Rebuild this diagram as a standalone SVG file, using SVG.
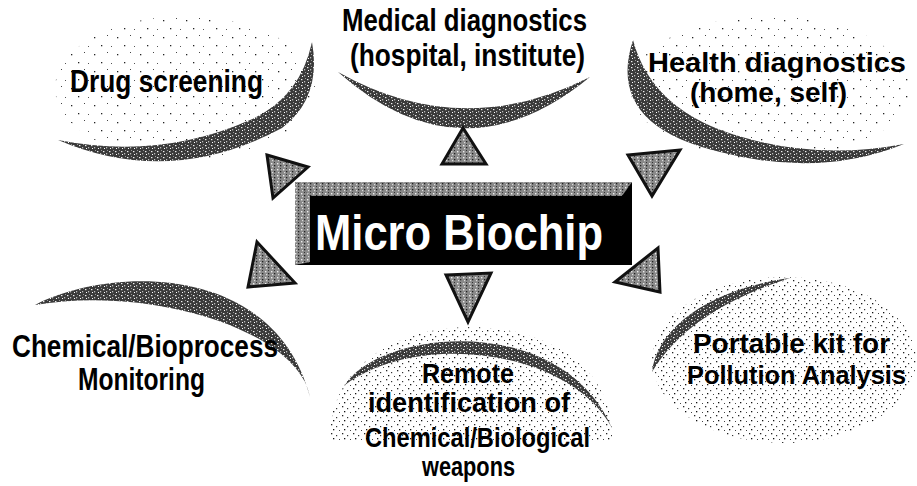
<svg xmlns="http://www.w3.org/2000/svg" width="917" height="486" viewBox="0 0 917 486">
<defs>
<pattern id="lt" width="23" height="17" patternUnits="userSpaceOnUse">
<rect x="2" y="3" width="1.3" height="1.3" fill="#222"/>
<rect x="15" y="1" width="1" height="1" fill="#444"/>
<rect x="9" y="11" width="1.3" height="1.3" fill="#222"/>
<rect x="19" y="12" width="1" height="1" fill="#555"/>
</pattern>
<pattern id="md" width="11" height="9" patternUnits="userSpaceOnUse">
<rect x="1" y="1" width="1.3" height="1.3" fill="#222"/>
<rect x="6" y="3" width="1.2" height="1.2" fill="#333"/>
<rect x="3" y="6" width="1.3" height="1.3" fill="#111"/>
<rect x="9" y="7" width="1" height="1" fill="#444"/>
</pattern>
<pattern id="dk" width="6" height="6" patternUnits="userSpaceOnUse">
<rect width="6" height="6" fill="#3a3a3a"/>
<rect x="1" y="1" width="1.4" height="1.2" fill="#eee"/>
<rect x="4" y="3" width="1.2" height="1.4" fill="#bbb"/>
<rect x="2" y="4" width="1" height="1" fill="#fff"/>
<rect x="5" y="0" width="1" height="1" fill="#999"/>
</pattern>
<pattern id="tp" width="6" height="6" patternUnits="userSpaceOnUse">
<rect width="6" height="6" fill="#8a8a8a"/>
<rect x="1" y="1" width="1.4" height="1.4" fill="#eee"/>
<rect x="4" y="3" width="1.3" height="1.3" fill="#222"/>
<rect x="2" y="4" width="1.2" height="1.2" fill="#ddd"/>
<rect x="4" y="0" width="1" height="1" fill="#333"/>
</pattern>
<style>
.lbl{font-family:"Liberation Sans",Arial,sans-serif;font-weight:bold;font-size:31px;fill:#000}
.sm{font-size:28px}
.xs{font-size:27px}
.xxs{font-size:26px}
.tri{fill:url(#tp);stroke:#111;stroke-width:3;stroke-linejoin:miter}
.cres{fill:url(#dk)}
.soft{fill:url(#lt)}
.mid{fill:url(#md)}
</style>
</defs>
<rect width="917" height="486" fill="#fff"/>

<g id="drug-screening">
<ellipse class="soft" cx="185" cy="88" rx="130" ry="72"/>
<path class="cres" d="M58,140 Q170,188 282,128 Q322,98 312,42 Q300,98 250,120 Q160,160 58,140 Z"/>
<text class="lbl" x="70" y="92" textLength="193" lengthAdjust="spacingAndGlyphs">Drug screening</text>
</g>

<g id="medical-diagnostics">
<path class="cres" d="M338,72 Q462,182 590,77 Q462,142 338,72 Z"/>
<text class="lbl" x="342" y="31" textLength="245" lengthAdjust="spacingAndGlyphs">Medical diagnostics</text>
<text class="lbl" x="350" y="66" textLength="235" lengthAdjust="spacingAndGlyphs">(hospital, institute)</text>
</g>

<g id="health-diagnostics">
<ellipse class="soft" cx="770" cy="88" rx="140" ry="72"/>
<path class="cres" d="M633,40 Q605,125 720,152 Q820,178 904,144 Q820,160 742,137 Q652,112 633,40 Z"/>
<text class="lbl sm" x="648" y="72" textLength="258" lengthAdjust="spacingAndGlyphs">Health diagnostics</text>
<text class="lbl sm" x="690" y="102" textLength="157" lengthAdjust="spacingAndGlyphs">(home, self)</text>
</g>

<g id="chemical-monitoring">
<path class="cres" d="M35,305 C110,266 275,262 310,397 C298,330 150,285 35,305 Z"/>
<text class="lbl" x="12" y="357" textLength="266" lengthAdjust="spacingAndGlyphs">Chemical/Bioprocess</text>
<text class="lbl" x="78" y="390" textLength="127" lengthAdjust="spacingAndGlyphs">Monitoring</text>
</g>

<g id="remote-identification">
<path class="mid" d="M330,440 C328,365 400,327 470,327 C545,327 614,365 612,440 Z"/>
<path class="cres" d="M345,385 C380,330 560,310 612,428 C570,350 420,330 345,385 Z"/>
<text class="lbl sm" x="422" y="383" textLength="92" lengthAdjust="spacingAndGlyphs">Remote</text>
<text class="lbl sm" x="368" y="412" textLength="202" lengthAdjust="spacingAndGlyphs">identification of</text>
<text class="lbl sm" x="365" y="447" textLength="225" lengthAdjust="spacingAndGlyphs">Chemical/Biological</text>
<text class="lbl sm" x="422" y="476" textLength="93" lengthAdjust="spacingAndGlyphs">weapons</text>
</g>

<g id="portable-kit">
<ellipse class="mid" cx="784" cy="360" rx="132" ry="83"/>
<path class="cres" d="M652,372 C657,330 705,290 790,278 C733,296 680,325 652,372 Z"/>
<text class="lbl xs" x="693" y="353" textLength="197" lengthAdjust="spacingAndGlyphs">Portable kit for</text>
<text class="lbl xxs" x="687" y="384" textLength="219" lengthAdjust="spacingAndGlyphs">Pollution Analysis</text>
</g>

<g id="micro-biochip">
<rect x="295" y="182" width="337" height="83" fill="#000"/>
<polygon points="295,182 632,182 622,196 310,196" fill="url(#tp)"/>
<polygon points="295,182 310,196 310,262 295,265" fill="url(#tp)"/>
<text x="315" y="250" font-family="Liberation Sans,Arial,sans-serif" font-weight="bold" font-size="50" fill="#fff" textLength="288" lengthAdjust="spacingAndGlyphs">Micro Biochip</text>
</g>

<g id="connectors">
<polygon class="tri" points="463,128 442,164 486,164"/>
<polygon class="tri" points="267,155 308,167 273,198"/>
<polygon class="tri" points="628,155 680,150 652,196"/>
<polygon class="tri" points="257,242 295,283 248,287"/>
<polygon class="tri" points="446,275 491,273 468,322"/>
<polygon class="tri" points="658,248 660,292 615,282"/>
</g>
</svg>
